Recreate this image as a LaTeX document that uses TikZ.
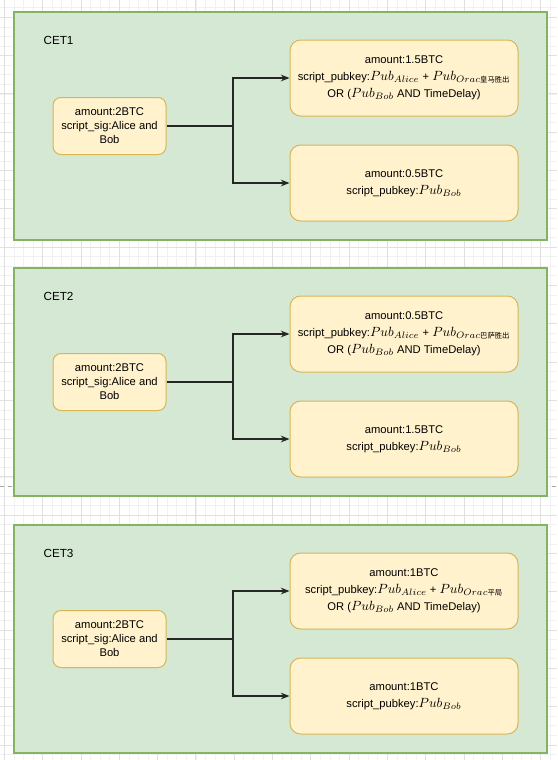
\documentclass[tikz,border=0pt]{standalone}
\usepackage{fontspec}
\usetikzlibrary{arrows.meta}
\setmainfont{Liberation Sans}
\newfontfamily\cjk{Noto Sans CJK SC}
\definecolor{cetfill}{HTML}{D5E8D4}
\definecolor{cetline}{HTML}{82B366}
\definecolor{boxfill}{HTML}{FFF2CC}
\definecolor{boxline}{HTML}{D6B656}
\definecolor{gridmajor}{HTML}{E0E0E0}
\definecolor{gridminor}{HTML}{F1F1F1}
\newcommand{\pk}[1]{{\fontsize{10}{12}\selectfont$Pub_{#1}$}}
\newcommand{\orac}[1]{{\fontsize{10}{12}\selectfont$Pub_{Orac\mbox{\cjk\fontsize{5.5}{6}\selectfont #1}}$}}
\begin{document}
\begin{tikzpicture}[x=0.75pt,y=-0.75pt,>={Stealth[length=6.5pt,width=5pt]},thick]
  \tikzstyle{cet}=[draw=cetline, fill=cetfill, line width=1.1pt]
  \tikzstyle{utxo}=[draw=boxline, fill=boxfill, rounded corners=6pt, line width=0.75pt,
    minimum width=84.75pt, minimum height=42.75pt, inner sep=0pt, align=center,
    font=\fontsize{8.4}{10.5}\selectfont]
  \tikzstyle{outbox}=[utxo, rounded corners=8pt, minimum width=171pt, minimum height=57pt,
    font=\fontsize{8.4}{12.8}\selectfont]
  \tikzstyle{flow}=[draw=black!85, line width=0.9pt]

  \useasboundingbox (0,0) rectangle (557,760);
  \fill[white] (0,0) rectangle (557,760);

  % canvas grid
  \foreach \k in {0,...,58} {
    \draw[gridminor, line width=0.4pt] (4.3+9.575*\k,0) -- (4.3+9.575*\k,760);
  }
  \foreach \k in {0,...,80} {
    \draw[gridminor, line width=0.4pt] (0,-1.95+9.575*\k) -- (557,-1.95+9.575*\k);
  }
  \foreach \k in {0,...,14} {
    \draw[gridmajor, line width=0.5pt] (4.3+38.3*\k,0) -- (4.3+38.3*\k,760);
  }
  \foreach \k in {0,...,20} {
    \draw[gridmajor, line width=0.5pt] (0,17.2+38.3*\k) -- (557,17.2+38.3*\k);
  }
  \draw[black!35, dashed, line width=0.5pt] (0,486.5) -- (557,486.5);

  \foreach \i/\dy/\amt/\win/\rest in {1/0/1.5BTC/皇马胜出/0.5BTC,
      2/256/0.5BTC/巴萨胜出/1.5BTC, 3/513/1BTC/平局/1BTC} {
    \draw[cet] (14,12+\dy) rectangle (547,240+\dy);
    \node[anchor=west, inner sep=0pt, font=\fontsize{8.8}{10}\selectfont] (lab\i) at (43,40+\dy) {CET\i};

    \node[utxo] (in\i) at (109.5,126+\dy) {amount:2BTC\\script\_sig:Alice and\\Bob};
    \node[outbox] (win\i) at (404,78+\dy)
      {amount:\amt\\script\_pubkey:\pk{Alice} + \orac{\win}\\OR (\pk{Bob} AND TimeDelay)};
    \node[outbox] (bob\i) at (404,183+\dy) {amount:\rest\\script\_pubkey:\pk{Bob}};

    \coordinate (fork\i) at (233,126+\dy);
    \draw[flow] (in\i.east) -- (fork\i);
    \draw[flow,->] (fork\i) |- (win\i.west);
    \draw[flow,->] (fork\i) |- (bob\i.west);
  }
\end{tikzpicture}
\end{document}
